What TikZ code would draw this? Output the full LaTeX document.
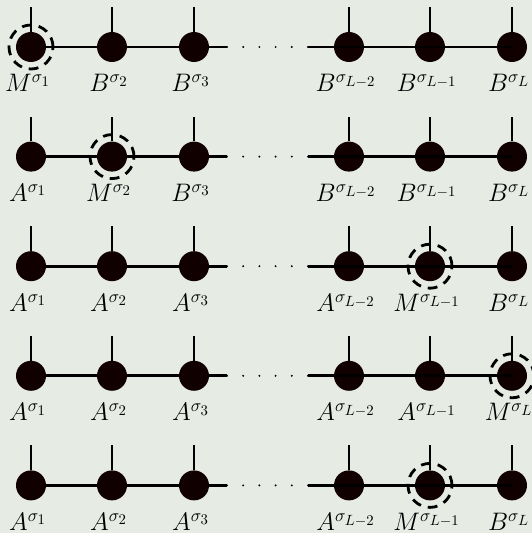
\documentclass[tikz,border=0pt]{standalone}
\usepackage{fix-cm}
\DeclareMathSizes{18}{18}{12.6}{10.5}
\definecolor{bgcolor}{HTML}{E6EBE4}
\definecolor{sitecolor}{HTML}{100000}
\begin{document}
\begin{tikzpicture}[
  site/.style={circle,fill=sitecolor,minimum size=0.75cm,inner sep=0pt},
  bond/.style={line width=2pt},
  dots/.style={line width=1.5pt,line cap=round,dash pattern=on 0pt off 0.405cm},
  gauge/.style={circle,draw,line width=2pt,dash pattern=on 7pt off 5pt,minimum size=1.1cm,inner sep=0pt},
  tag/.style={anchor=base,font=\fontsize{18}{20}\selectfont}
]
  %Background and frame
  \useasboundingbox[fill=bgcolor] (0,0) rectangle (13.3,13.325);

  %Rows of the chain, \m = position of the orthogonality centre
  \foreach \row/\y/\m in {1/12.15/1, 2/9.41/2, 3/6.67/5, 4/3.93/6, 5/1.19/5}{
    %Sites and physical legs
    \foreach \i/\x/\sub in {1/0.775/1, 2/2.8/2, 3/4.85/3, 4/8.725/{L-2}, 5/10.75/{L-1}, 6/12.8/L}{
      \node[site] (s\row-\i) at (\x,\y) {};
      \coordinate (t\row-\i) at (\x,\y+1);
      \draw[bond] (s\row-\i.north) -- (t\row-\i);
      \ifnum\i<\m \def\lt{A}\else\ifnum\i=\m \def\lt{M}\else\def\lt{B}\fi\fi
      \node[tag] (l\row-\i) at ([xshift=-0.08cm,yshift=-1.125cm]s\row-\i.center) {$\lt^{\sigma_{\sub}}$};
    }
    %Virtual bonds
    \coordinate (a\row) at (5.675,\y);
    \coordinate (b\row) at (7.7,\y);
    \draw[bond] (s\row-1) -- (s\row-2) -- (s\row-3) -- (a\row);
    \draw[dots] (a\row) -- (b\row);
    \draw[bond] (b\row) -- (s\row-4.center) -- (s\row-6.center);
    %Orthogonality centre
    \node[gauge] (g\row) at (s\row-\m) {};
  }
\end{tikzpicture}
\end{document}
